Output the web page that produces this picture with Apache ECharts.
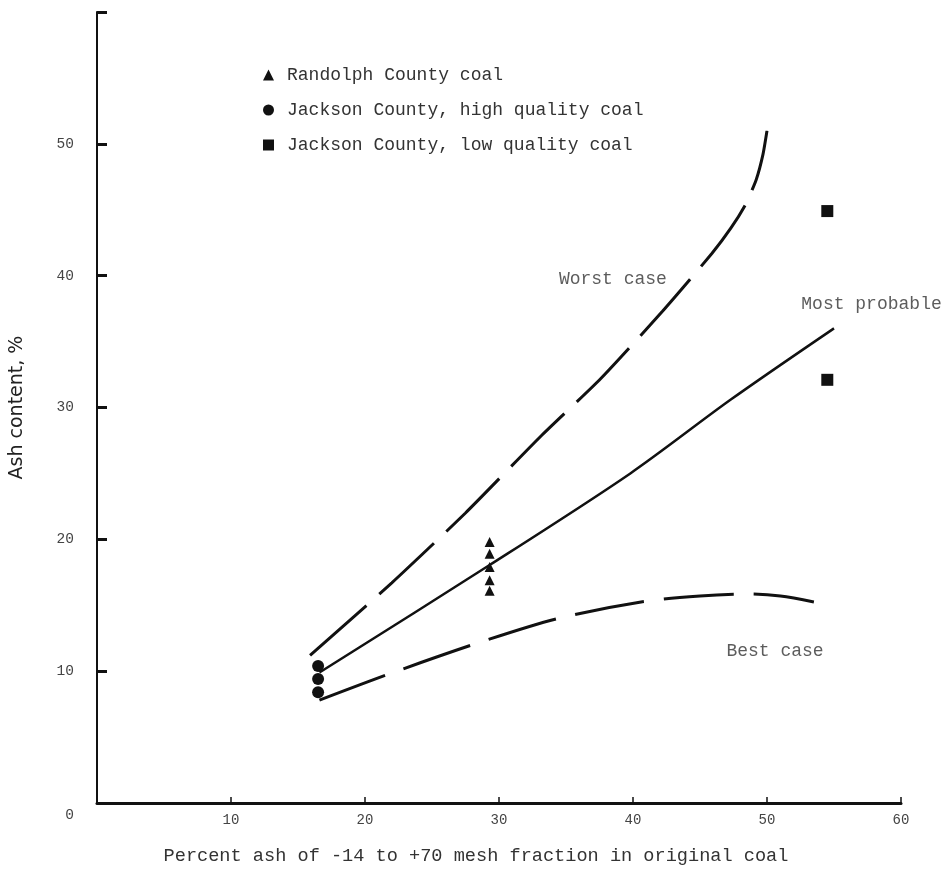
<!DOCTYPE html>
<html>
<head>
<meta charset="utf-8">
<script src="https://cdn.jsdelivr.net/npm/echarts@6/dist/echarts.min.js"></script>
<style>
html,body{margin:0;padding:0;background:#fff;}
#chart{width:950px;height:878px;}
</style>
</head>
<body>
<div id="chart"></div>
<script>
// ---- data ----
const xTicks = [0, 10, 20, 30, 40, 50, 60];
const yTicks = [0, 10, 20, 30, 40, 50, 60];

const randolphX = [29.3, 29.3, 29.3, 29.3, 29.3];
const randolphY = [19.8, 18.9, 17.9, 16.9, 16.1];

const jacksonHighX = [16.5, 16.5, 16.5];
const jacksonHighY = [10.4, 9.4, 8.4];

const jacksonLowX = [54.5, 54.5];
const jacksonLowY = [44.9, 32.1];

const worstX = [15.9, 22.0, 27.5, 33.1, 37.6, 42.2, 45.9, 47.3, 48.4, 49.2, 49.7, 50.0];
const worstY = [11.2, 16.7, 22.0, 27.8, 32.2, 37.3, 41.7, 43.6, 45.4, 47.3, 49.2, 51.0];

const probableX = [16.6, 29.3, 39.8, 47.3, 55.0];
const probableY = [9.9, 18.05, 25.0, 30.6, 36.0];

const bestX = [16.6, 22.1, 28.9, 34.4, 40.6, 45.0, 48.6, 51.0, 53.5];
const bestY = [7.8, 9.9, 12.3, 14.0, 15.25, 15.7, 15.85, 15.7, 15.25];

const annotationNames = ['Worst case', 'Most probable', 'Best case'];
const annotationX = [38.5, 57.8, 50.6];
const annotationY = [39.7, 37.8, 11.5];

const seriesNames = ['Randolph County coal', 'Jackson County, high quality coal', 'Jackson County, low quality coal'];
const xTitle = 'Percent ash of -14 to +70 mesh fraction in original coal';
const yTitle = 'Ash content, %';

// ---- build ----
const zip = (xs, ys) => xs.map((x, i) => [x, ys[i]]);
const mono = 'Liberation Mono';
const ink = '#111';

const chart = echarts.init(document.getElementById('chart'), null, {renderer: 'canvas'});
chart.setOption({
  backgroundColor: '#fff',
  animation: false,
  grid: {left: 95, right: 49, top: 12, bottom: 75},
  legend: {
    orient: 'vertical', left: 263, top: 66, padding: 0,
    itemGap: 17, itemWidth: 11, itemHeight: 11,
    textStyle: {fontFamily: mono, fontSize: 18, color: '#333', padding: [0, 0, 0, 8]},
    data: [
      {name: seriesNames[0], icon: 'triangle'},
      {name: seriesNames[1], icon: 'circle'},
      {name: seriesNames[2], icon: 'rect'}
    ]
  },
  xAxis: {
    type: 'value', min: xTicks[0], max: xTicks[xTicks.length - 1], interval: 10,
    axisLine: {lineStyle: {color: ink, width: 3}},
    axisTick: {inside: true, length: 6, lineStyle: {color: ink, width: 1.5}},
    axisLabel: {margin: 10, fontFamily: mono, fontSize: 14, color: '#444', showMinLabel: false},
    splitLine: {show: false},
    name: xTitle, nameLocation: 'middle', nameGap: 44,
    nameTextStyle: {fontFamily: mono, fontSize: 18.6, color: '#333', padding: [0, 46, 0, 0]}
  },
  yAxis: {
    type: 'value', min: yTicks[0], max: yTicks[yTicks.length - 1], interval: 10,
    axisLine: {lineStyle: {color: ink, width: 2}},
    axisTick: {inside: true, length: 10, lineStyle: {color: ink, width: 3}},
    axisLabel: {
      margin: 23, fontFamily: mono, fontSize: 14.5, color: '#444',
      formatter: v => v === 60 ? '' : (v === 0 ? '{z|0}' : String(v)),
      rich: {z: {fontFamily: mono, fontSize: 14.5, color: '#444', padding: [24, 0, 0, 0]}}
    },
    splitLine: {show: false},
    name: yTitle, nameLocation: 'middle', nameGap: 70,
    nameTextStyle: {fontFamily: 'DejaVu Sans', fontSize: 19, color: '#222'}
  },
  series: [
    {type: 'line', name: 'Worst case', data: zip(worstX, worstY), smooth: 0.2, symbol: 'none',
     lineStyle: {color: ink, width: 3, type: [75, 17]}, z: 2, silent: true},
    {type: 'line', name: 'Most probable', data: zip(probableX, probableY), smooth: 0.3, symbol: 'none',
     lineStyle: {color: ink, width: 2.5}, z: 2, silent: true},
    {type: 'line', name: 'Best case', data: zip(bestX, bestY), smooth: 0.3, symbol: 'none',
     lineStyle: {color: ink, width: 3, type: [70, 20]}, z: 2, silent: true},
    {type: 'scatter', name: seriesNames[0], data: zip(randolphX, randolphY), symbol: 'triangle',
     symbolSize: 10, itemStyle: {color: ink, opacity: 1}, z: 5},
    {type: 'scatter', name: seriesNames[1], data: zip(jacksonHighX, jacksonHighY), symbol: 'circle',
     symbolSize: 12, itemStyle: {color: ink, opacity: 1}, z: 5},
    {type: 'scatter', name: seriesNames[2], data: zip(jacksonLowX, jacksonLowY), symbol: 'rect',
     symbolSize: 12, itemStyle: {color: ink, opacity: 1}, z: 5},
    {type: 'scatter', name: 'annotations', silent: true, symbolSize: 1,
     itemStyle: {color: 'rgba(0,0,0,0)'},
     data: annotationNames.map((n, i) => ({name: n, value: [annotationX[i], annotationY[i]]})),
     label: {show: true, position: 'inside', formatter: p => p.name,
             fontFamily: mono, fontSize: 18, color: '#333'}, z: 6}
  ]
});
</script>
</body>
</html>
